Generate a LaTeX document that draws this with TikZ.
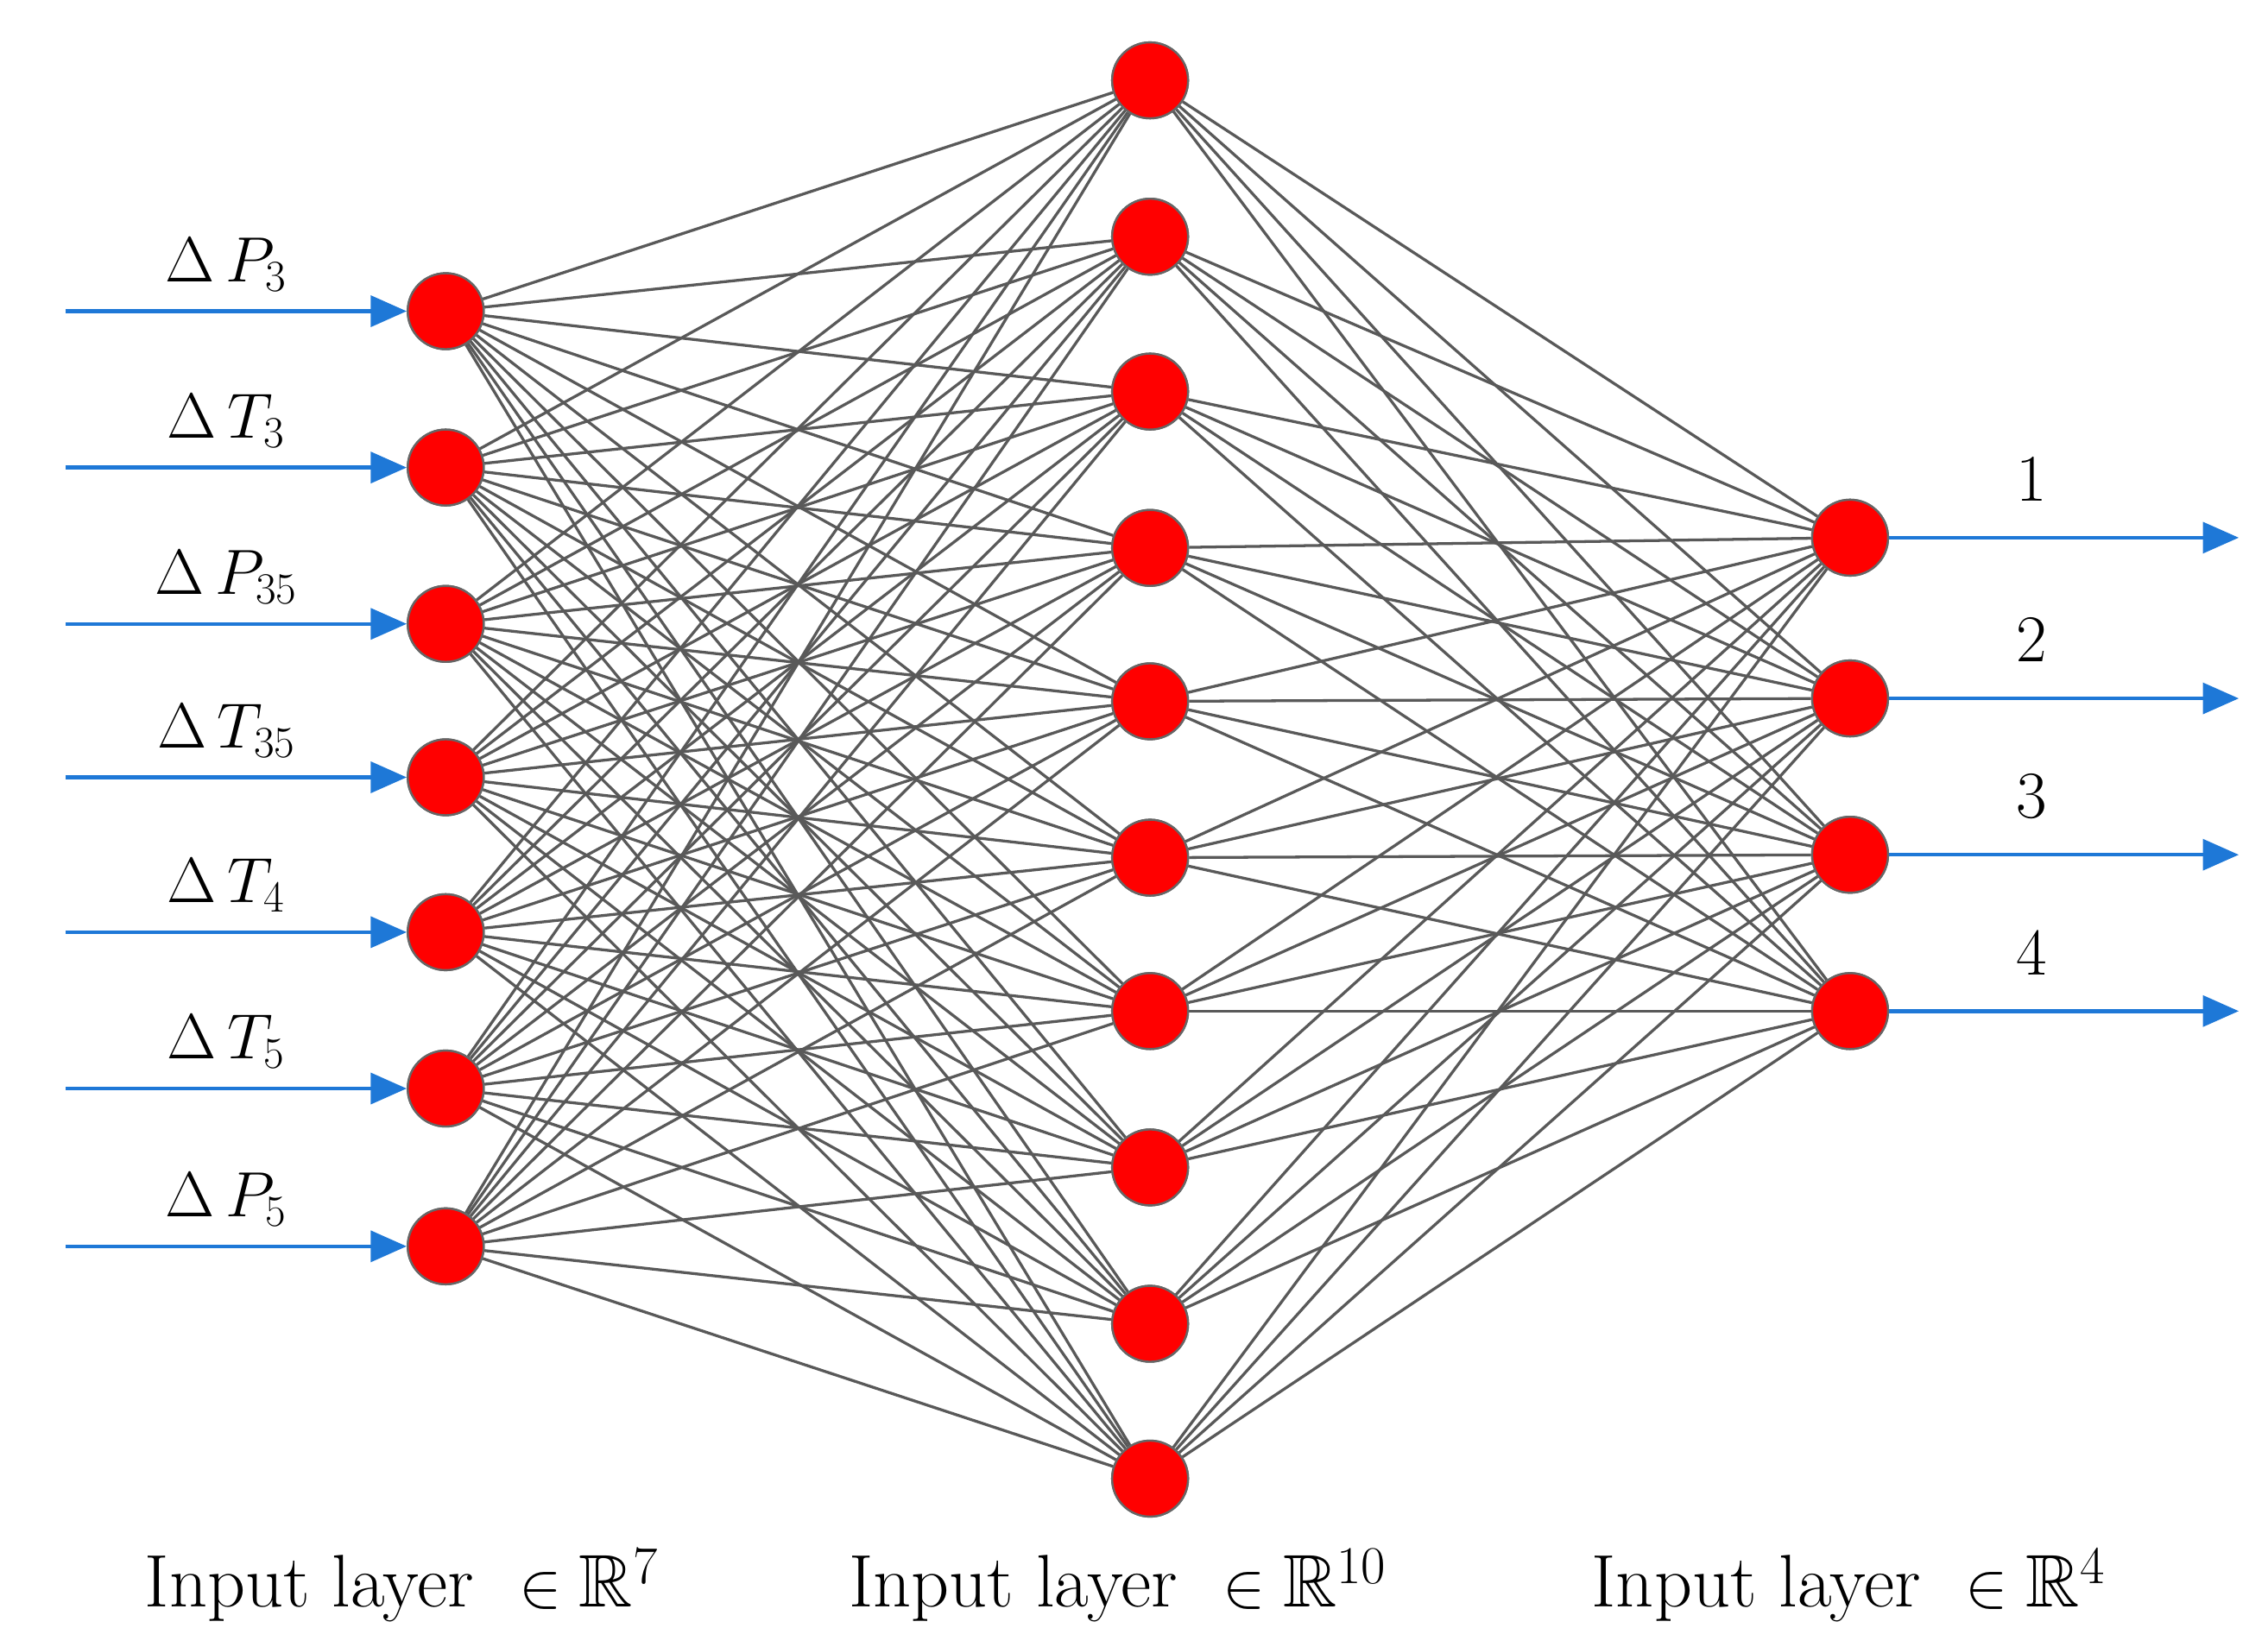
\documentclass[tikz,border=0pt]{standalone}
\usepackage{amssymb}
\usetikzlibrary{arrows.meta,calc}
\begin{document}
\begin{tikzpicture}[x=0.02cm,y=-0.02cm,
  neuron/.style={circle,fill=red,draw=black!60,line width=0.8pt,minimum size=1.04cm,inner sep=0pt},
  edge/.style={draw=black!65,line width=1.1pt},
  io/.style={draw={rgb,255:red,30;green,120;blue,215},line width=1.5pt,-{Triangle[length=14pt,width=12pt]}},
  lab/.style={font=\fontsize{26}{30}\selectfont},
  blab/.style={font=\fontsize{29}{34}\selectfont}]
\useasboundingbox (0,0) rectangle (1552,1114);
\foreach \y [count=\i] in {213,320,427,532,638,745,853} \node[neuron] (i\i) at (305,\y) {};
\foreach \y [count=\i] in {55,162,268,375,480,587,692,799,906,1012} \node[neuron] (h\i) at (787,\y) {};
\foreach \y [count=\i] in {368,478,585,692} \node[neuron] (o\i) at (1266,\y) {};
\foreach \i in {1,...,7} \foreach \j in {1,...,10} \draw[edge] (i\i) -- (h\j);
\foreach \j in {1,...,10} \foreach \k in {1,...,4} \draw[edge] (h\j) -- (o\k);
\foreach \i in {1,...,7} \node[neuron] at (i\i) {};
\foreach \j in {1,...,10} \node[neuron] at (h\j) {};
\foreach \k in {1,...,4} \node[neuron] at (o\k) {};
\foreach \i/\t in {1/{$\Delta\,P_3$},2/{$\Delta\,T_3$},3/{$\Delta\,P_{35}$},4/{$\Delta\,T_{35}$},5/{$\Delta\,T_4$},6/{$\Delta\,T_5$},7/{$\Delta\,P_5$}}{
  \coordinate (s\i) at ($(i\i)+(-260,0)$);
  \draw[io] (s\i) -- (i\i.west);
  \node[lab] (l\i) at ($(i\i)+(-150,-32)$) {\t};
}
\foreach \k in {1,...,4}{
  \coordinate (e\k) at ($(o\k)+(266,0)$);
  \draw[io] (o\k.east) -- (e\k);
  \node[lab] (n\k) at ($(o\k)+(124,-40)$) {\k};
}
\node[blab] (b1) at (275,1085) {Input layer\ \ $\in\mathbb{R}^7$};
\node[blab] (b2) at (765,1085) {Input layer\ \ $\in\mathbb{R}^{10}$};
\node[blab] (b3) at (1265,1085) {Input layer\ \ $\in\mathbb{R}^4$};
\end{tikzpicture}
\end{document}
